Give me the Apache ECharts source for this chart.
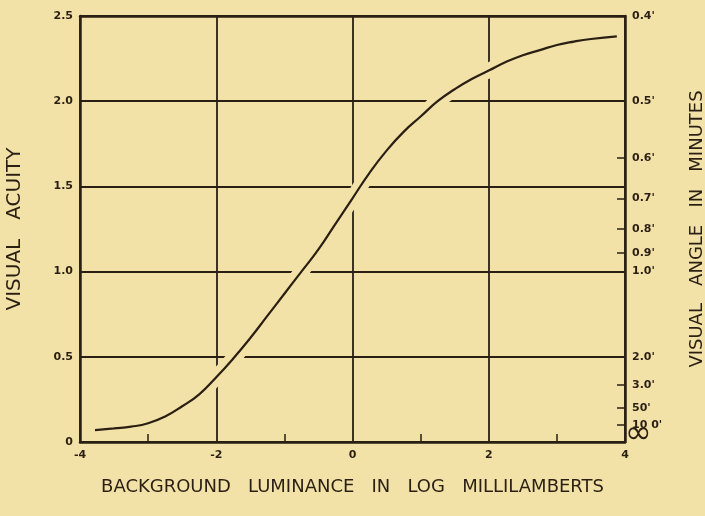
<!DOCTYPE html>
<html>
<head>
<meta charset="utf-8">
<script src="https://cdn.jsdelivr.net/npm/echarts@6/dist/echarts.min.js"></script>
<style>
  html, body { margin: 0; padding: 0; background: #f2e2a8; }
  #chart { width: 705px; height: 516px; }
</style>
</head>
<body>
<div id="chart"></div>
<script>
// log background luminance (log millilamberts)
var luminance = [-3.78, -3.5, -3.25, -3.0, -2.75, -2.5, -2.25, -2.0, -1.75, -1.5, -1.25, -1.0,
  -0.75, -0.5, -0.25, 0, 0.25, 0.5, 0.75, 1.0, 1.25, 1.5, 1.75, 2.0, 2.25, 2.5, 2.75, 3.0,
  3.25, 3.5, 3.88];
// visual acuity
var acuity = [0.07, 0.08, 0.09, 0.11, 0.15, 0.21, 0.28, 0.38, 0.49, 0.61, 0.74, 0.87,
  1.00, 1.13, 1.28, 1.43, 1.58, 1.71, 1.82, 1.91, 2.00, 2.07, 2.13, 2.18, 2.23, 2.27, 2.30, 2.33,
  2.35, 2.365, 2.38];

var xMinorTicks = [-3, -1, 1, 3];
// right axis: visual angle in minutes (acuity = 1 / angle)
var angleLabels = ["0.4'", "0.5'", "0.6'", "0.7'", "0.8'", "0.9'", "1.0'", "2.0'", "3.0'", "50'", "10 0'"];
var angleMinutes = [0.4, 0.5, 0.6, 0.7, 0.8, 0.9, 1.0, 2.0, 3.0, 5.0, 10.0];
var infinityLabel = '∞';

var ink = '#2a1f12';
var paper = '#f2e2a8';
var font = 'DejaVu Sans';

var anglePos = angleMinutes.map(function (m) { return 1 / m; });
var curve = luminance.map(function (x, i) { return [x, acuity[i]]; });

var chart = echarts.init(document.getElementById('chart'));
chart.setOption({
  backgroundColor: paper,
  animation: false,
  grid: { left: 80, right: 80, top: 16, bottom: 74, outerBoundsMode: 'none', containLabel: false },
  xAxis: [{
    type: 'value', min: -4, max: 4, interval: 2,
    name: 'BACKGROUND   LUMINANCE   IN   LOG   MILLILAMBERTS',
    nameLocation: 'middle', nameGap: 36,
    nameTextStyle: { color: ink, fontFamily: font, fontSize: 18 },
    axisLine: { onZero: false, lineStyle: { color: ink, width: 2.5 } },
    axisTick: { show: true, inside: true, length: 8, customValues: xMinorTicks, lineStyle: { color: ink, width: 1.5 } },
    axisLabel: { margin: 8, color: ink, fontFamily: font, fontSize: 11, fontWeight: 'bold' },
    splitLine: { show: false }
  }, {
    type: 'value', min: -4, max: 4, interval: 2, position: 'top',
    axisLine: { show: true, onZero: false, lineStyle: { color: ink, width: 2.5 } },
    axisTick: { show: false }, axisLabel: { show: false },
    splitLine: { show: true, lineStyle: { color: ink, width: 1.8 } }
  }],
  yAxis: [{
    type: 'value', min: 0, max: 2.5, interval: 0.5,
    name: 'VISUAL   ACUITY', nameLocation: 'middle', nameGap: 55, nameRotate: 90,
    nameTextStyle: { color: ink, fontFamily: font, fontSize: 20 },
    axisLine: { show: true, onZero: false, lineStyle: { color: ink, width: 2.5 } },
    axisTick: { show: false },
    axisLabel: {
      margin: 7, color: ink, fontFamily: font, fontSize: 11, fontWeight: 'bold',
      formatter: function (v) { return v === 0 ? '0' : v.toFixed(1); }
    },
    splitLine: { show: true, lineStyle: { color: ink, width: 1.8 } }
  }, {
    type: 'value', min: 0, max: 2.5, position: 'right',
    name: 'VISUAL   ANGLE   IN   MINUTES', nameLocation: 'middle', nameGap: 63, nameRotate: 90,
    nameTextStyle: { color: ink, fontFamily: font, fontSize: 18 },
    axisLine: { show: true, onZero: false, lineStyle: { color: ink, width: 2.5 } },
    axisTick: { show: true, inside: true, length: 8, customValues: anglePos, lineStyle: { color: ink, width: 1.5 } },
    axisLabel: {
      customValues: anglePos, margin: 7, showMinLabel: true, showMaxLabel: true,
      color: ink, fontFamily: font, fontSize: 11, fontWeight: 'bold',
      formatter: function (v) {
        for (var i = 0; i < anglePos.length; i++) {
          if (Math.abs(anglePos[i] - v) < 1e-6) return angleLabels[i];
        }
        return '';
      }
    },
    splitLine: { show: false }
  }, {
    // infinite visual angle sits at zero acuity
    type: 'value', min: 0, max: 2.5, position: 'right',
    axisLine: { show: false }, axisTick: { show: false }, splitLine: { show: false },
    axisLabel: {
      customValues: [0], margin: 0, showMinLabel: true,
      formatter: function () { return infinityLabel; },
      color: ink, fontFamily: font, fontSize: 32, lineHeight: 14, verticalAlign: 'bottom'
    }
  }],
  series: [{
    // paper-coloured halo so the grid breaks around the curve
    type: 'line', data: curve, smooth: true, symbol: 'none', silent: true, z: 2,
    lineStyle: { color: paper, width: 15, cap: 'butt' }
  }, {
    type: 'line', data: curve, smooth: true, symbol: 'none', z: 3,
    lineStyle: { color: ink, width: 2.2 }
  }]
});
</script>
</body>
</html>
